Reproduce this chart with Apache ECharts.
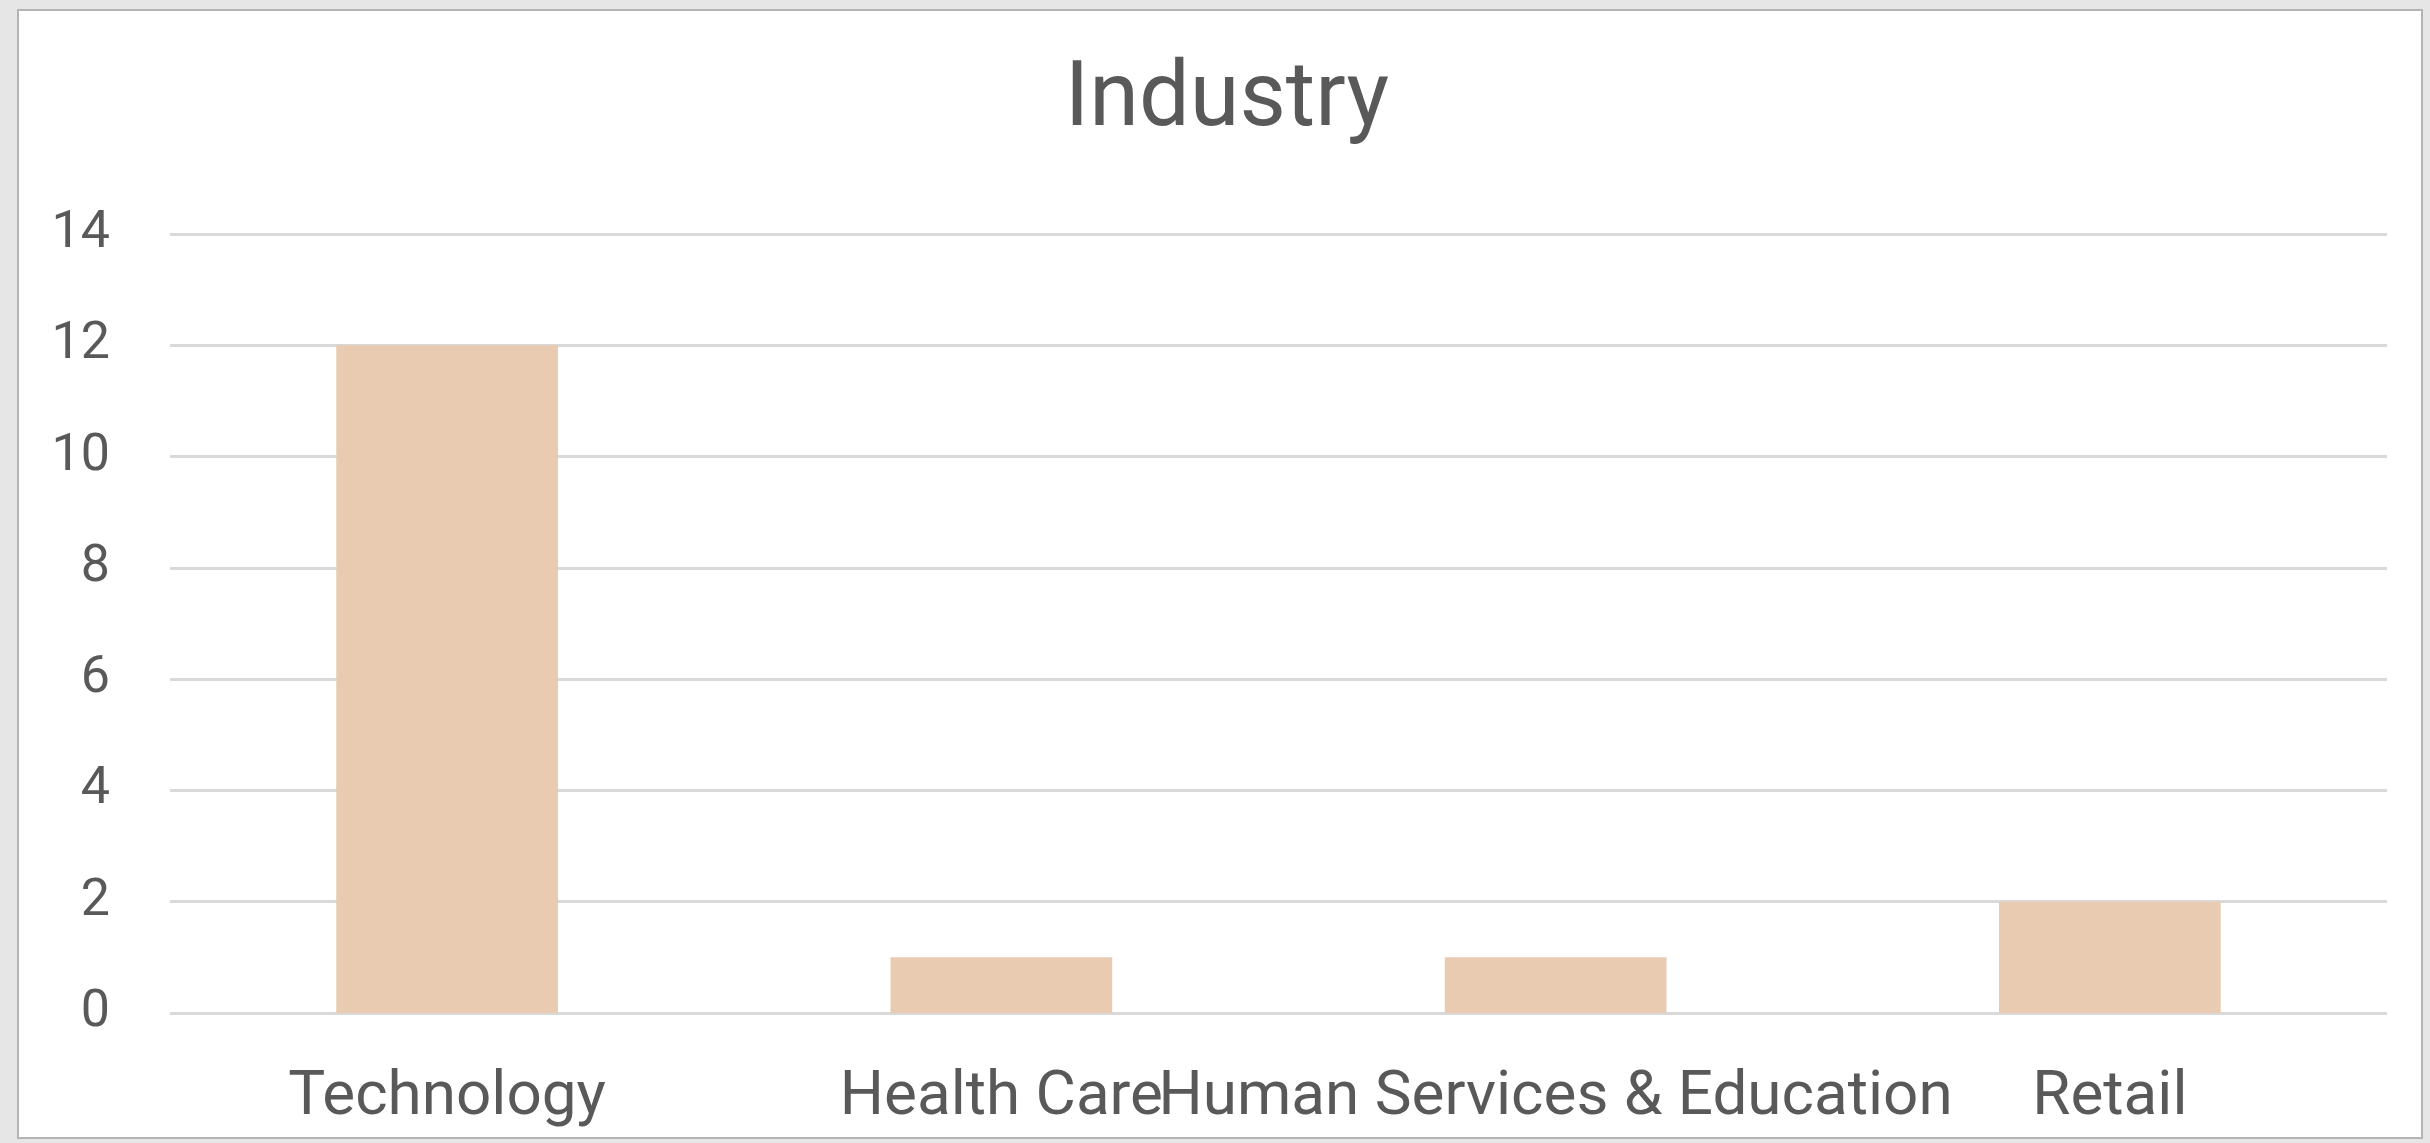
<!DOCTYPE html>
<html>
<head>
<meta charset="utf-8">
<style>
  html, body { margin: 0; padding: 0; background: #e6e6e6; }
  #chart { width: 2430px; height: 1143px; }
</style>
<script src="https://cdn.jsdelivr.net/npm/echarts@6/dist/echarts.min.js"></script>
</head>
<body>
<div id="chart"></div>
<script>
// Industry counts
const categories = ['Technology', 'Health Care', 'Human Services & Education', 'Retail'];
const counts = [12, 1, 1, 2];
const yTicks = [0, 2, 4, 6, 8, 10, 12, 14];

const chart = echarts.init(document.getElementById('chart'), null, { renderer: 'canvas' });

const textColor = '#595959';
const fontFamily = 'Roboto, "Open Sans", sans-serif';

chart.setOption({
  backgroundColor: '#e6e6e6',
  animation: false,
  graphic: [{
    type: 'rect',
    z: -10,
    shape: { x: 18, y: 10, width: 2404, height: 1128 },
    style: { fill: '#ffffff', stroke: '#b4b4b4', lineWidth: 2 }
  }],
  title: {
    text: 'Industry',
    left: 1222,
    textAlign: 'center',
    top: 52,
    textStyle: { fontFamily, fontSize: 90, fontWeight: 'normal', color: textColor }
  },
  grid: { left: 170, right: 43, top: 234, bottom: 130, containLabel: false },
  xAxis: {
    type: 'category',
    data: categories,
    axisLine: { show: false },
    axisTick: { show: false },
    axisLabel: {
      interval: 0,
      margin: 54,
      fontFamily,
      fontSize: 62,
      color: textColor
    }
  },
  yAxis: {
    type: 'value',
    min: yTicks[0],
    max: yTicks[yTicks.length - 1],
    interval: yTicks[1] - yTicks[0],
    axisLine: { show: false },
    axisTick: { show: false },
    axisLabel: {
      margin: 60,
      fontFamily,
      fontSize: 52,
      color: textColor
    },
    splitLine: { lineStyle: { color: '#d9d9d9', width: 3 } }
  },
  series: [{
    type: 'bar',
    data: counts,
    barWidth: '40%',
    itemStyle: { color: '#e8cbb0' }
  }]
});
</script>
</body>
</html>
